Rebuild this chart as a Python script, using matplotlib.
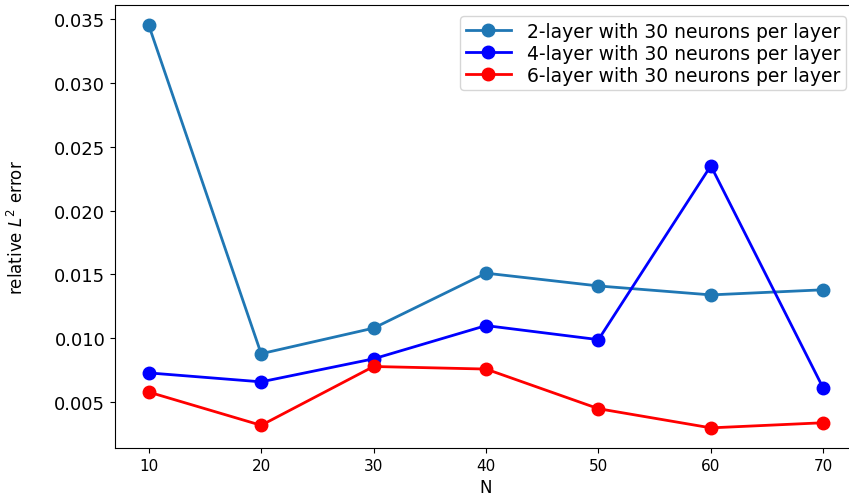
import matplotlib
matplotlib.use("Agg")
import matplotlib.pyplot as plt

N = [10, 20, 30, 40, 50, 60, 70]
err2 = [0.0345, 0.0088, 0.0108, 0.0151, 0.0141, 0.0134, 0.0138]
err4 = [0.0073, 0.0066, 0.0084, 0.0110, 0.0099, 0.0235, 0.0061]
err6 = [0.0058, 0.0032, 0.0078, 0.0076, 0.0045, 0.0030, 0.0034]
labels = ["2-layer with 30 neurons per layer",
          "4-layer with 30 neurons per layer",
          "6-layer with 30 neurons per layer"]

fig = plt.figure(figsize=(8.49, 5.02), dpi=100)
# axes box runs slightly past the right edge, as in the reference
ax = fig.add_axes([115/849, 1 - 449/502, (857-115)/849, (449-6)/502])

ax.plot(N, err2, "o-", color="tab:blue", lw=2, ms=9, label=labels[0])
ax.plot(N, err4, "o-", color="blue", lw=2, ms=9, label=labels[1])
ax.plot(N, err6, "o-", color="red", lw=2, ms=9, label=labels[2])

ax.set_xticks(N)
ax.tick_params(axis="x", labelsize=11)
ax.tick_params(axis="y", labelsize=13)
ax.set_xlabel("N", fontsize=12, labelpad=4)
ax.set_ylabel("relative $L^2$ error", fontsize=12)
ax.yaxis.set_label_coords(-0.119, 0.5)
ax.legend(loc="upper right", fontsize=13.5, handlelength=2.4, handletextpad=0.85,
          borderpad=0.3, labelspacing=0.15, borderaxespad=0.6)

fig.savefig("out.png", dpi=100)
